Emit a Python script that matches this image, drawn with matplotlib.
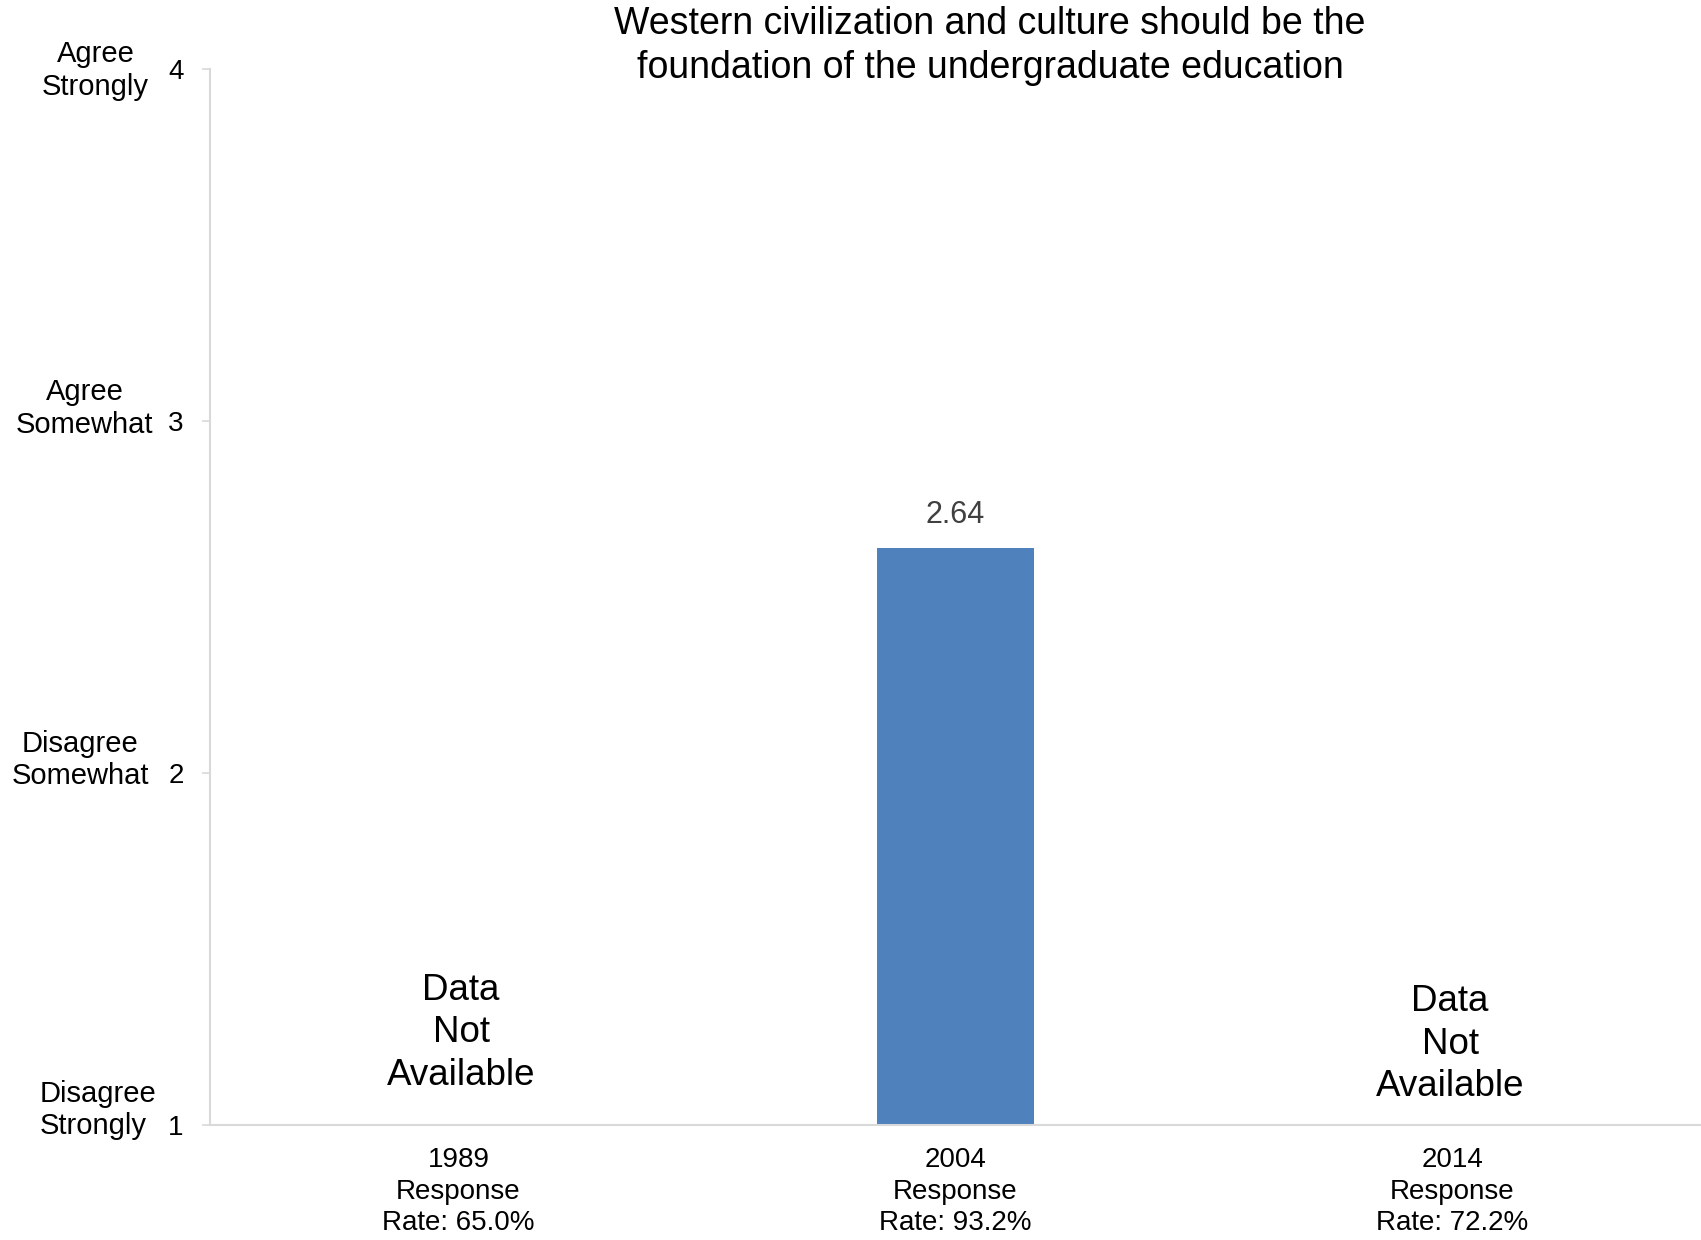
import matplotlib
matplotlib.use("Agg")
import matplotlib.pyplot as plt
import numpy as np

plt.rcParams['font.family'] = ['Liberation Sans', 'DejaVu Sans']

# ---- data ----
years = ["1989", "2004", "2014"]
response_rates = ["65.0%", "93.2%", "72.2%"]
values = [None, 2.64, None]
scale_levels = [1, 2, 3, 4]
scale_labels = ["Disagree\nStrongly", "Disagree\nSomewhat", "Agree\nSomewhat", "Agree\nStrongly"]
title = "Western civilization and culture should be the\nfoundation of the undergraduate education"
missing_text = "Data\nNot\nAvailable"

bar_color = "#4F81BD"
axis_color = "#D9D9D9"

fig = plt.figure(figsize=(17.01, 12.40), dpi=100)
ax = fig.add_axes([0.1235, 0.0927, 0.8765, 0.8517])

x = np.arange(len(years))
ybase = scale_levels[0]
for xi, v in zip(x, values):
    if v is not None:
        ax.bar(xi, v - ybase, bottom=ybase, width=0.315, color=bar_color, zorder=2)
        ax.annotate(f"{v:.2f}", xy=(xi, v), xytext=(0, 13), textcoords="offset points",
                    ha="center", va="bottom", fontsize=22, color="#404040")

# "Data Not Available" placements
missing_pos = {0: (0.005, 1.262), 2: (-0.005, 1.23)}
for xi, v in zip(x, values):
    if v is None:
        dx, yy = missing_pos[xi]
        ax.text(xi + dx, yy, missing_text, ha="center", va="center", fontsize=26.5,
                linespacing=1.28, color="black")

ax.set_xlim(-0.5, 2.5)
ax.set_ylim(scale_levels[0], scale_levels[-1])
ax.set_xticks(x)
ax.set_xticklabels([f"{y}\nResponse\nRate: {r}" for y, r in zip(years, response_rates)],
                   fontsize=20, linespacing=1.28)
ax.set_yticks(scale_levels)
ax.set_yticklabels([str(l) for l in scale_levels], fontsize=20)

ax.tick_params(axis="x", length=0, pad=16)
ax.tick_params(axis="y", length=6, width=1.2, color=axis_color, pad=13)

for s in ["top", "right"]:
    ax.spines[s].set_visible(False)
for s in ["left", "bottom"]:
    ax.spines[s].set_color(axis_color)
    ax.spines[s].set_linewidth(1.5)

# scale level text labels left of tick numbers
label_specs = [
    (40 / 1701, "left", 11),
    (80 / 1701, "center", 9.5),
    (84.6 / 1701, "center", 9),
    (95.5 / 1701, "center", -1),
]
for lvl, lab, (fx, ha, off) in zip(scale_levels, scale_labels, label_specs):
    ax.annotate(lab, xy=(fx, lvl), xycoords=("figure fraction", "data"),
                xytext=(0, off), textcoords="offset points",
                ha=ha, va="center", multialignment=ha, fontsize=21,
                linespacing=1.2, annotation_clip=False)

fig.text(0.582, 1 - 46 / 1240, title, ha="center", va="center", fontsize=27,
         linespacing=1.25)

fig.savefig("out.png", dpi=100)
